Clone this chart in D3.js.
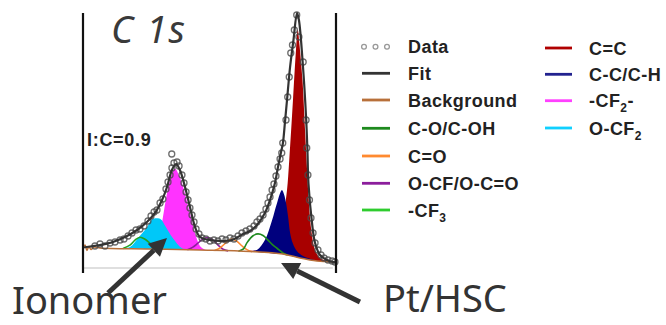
<!DOCTYPE html>
<html><head><meta charset="utf-8">
<script src="https://cdn.jsdelivr.net/npm/d3@7"></script>
<style>body{margin:0;background:#fff}svg{display:block}</style>
</head><body>
<svg id="c" width="666" height="325"></svg>
<script>
// ---------- DATA (binding energy in eV, intensity in a.u.) ----------
const bgBE  = [296.94, 296.82, 296.71, 296.59, 296.47, 296.29, 295.94, 293.0, 290.06, 287.12, 285.18, 284.18, 283.18, 282.24, 282.0];
const bgInt = [20.5, 23, 17.5, 21.5, 18.5, 21, 20, 19, 18, 16.5, 14, 10, 7, 6, 6];

const fitBE  = [296.94, 295.94, 295.18, 294.35, 293.76, 293.18, 292.71, 292.29, 292.0, 291.71, 291.47, 291.24, 290.94, 290.65, 290.35, 290.06, 289.47, 288.88, 288.18, 287.53, 287.12, 286.71, 286.24, 285.94, 285.65, 285.47, 285.29, 285.18, 285.06, 284.94, 284.76, 284.56, 284.35, 284.24, 284.0, 283.82, 283.74, 283.68, 283.47, 283.29, 283.0, 282.59, 282.24, 282.0];
const fitInt = [20.5, 23, 26, 32, 38, 46, 55, 68, 81, 98, 104, 98, 81, 61, 41, 31, 28, 27, 28, 34, 37, 43, 55, 68, 85, 101, 116, 125, 146, 168, 201, 228, 255, 248, 201, 151, 118, 85, 45, 25, 13, 8, 6, 6];

const dataBE  = [296.24, 295.94, 295.65, 295.35, 295.06, 294.76, 294.53, 294.29, 294.06, 293.82, 293.59, 293.35, 293.12, 292.94, 292.76, 292.59, 292.41, 292.24, 292.06, 291.94, 291.82, 291.72, 291.71, 291.59, 291.41, 291.29, 291.12, 291.0, 290.88, 290.76, 290.65, 290.53, 290.41, 290.29, 290.12, 289.94, 289.71, 289.47, 289.24, 289.0, 288.76, 288.53, 288.29, 288.06, 287.82, 287.59, 287.35, 287.12, 286.88, 286.71, 286.53, 286.35, 286.18, 286.06, 285.94, 285.82, 285.71, 285.59, 285.47, 285.35, 285.25, 285.19, 285.0, 284.9, 284.81, 284.72, 284.62, 284.51, 284.37, 284.24, 283.99, 283.82, 283.78, 283.71, 283.62, 283.53, 283.41, 283.29, 283.12, 282.94, 282.76, 282.53, 282.29, 282.12];
const dataInt = [22, 24, 22, 25, 26, 28, 29, 32, 35, 38, 39, 42, 47, 52, 56, 58, 65, 69, 79, 86, 93, 114, 100, 105, 106, 102, 93, 85, 76, 68, 60, 53, 46, 39, 34, 30, 29, 27, 28, 27, 29, 28, 30, 29, 32, 35, 37, 39, 42, 46, 49, 53, 59, 65, 71, 78, 84, 92, 101, 109, 115, 125, 148, 171, 191, 215, 223, 238, 253, 231, 206, 148, 120, 93, 68, 50, 35, 25, 18, 13, 10, 8, 7, 6];

// component heights above background
const cf2BE  = [293.4, 293.0, 292.65, 292.41, 292.24, 292.0, 291.71, 291.53, 291.24, 290.94, 290.65, 290.35, 290.06, 289.76, 289.4];
const cf2Int = [0, 1.7, 6.8, 17, 32, 56, 76, 81, 72, 56, 36.5, 16.6, 4, 0.5, 0];
const ocf2BE  = [294.65, 294.18, 293.71, 293.18, 292.88, 292.59, 292.35, 292.12, 291.65, 291.12, 290.7];
const ocf2Int = [0, 1.5, 10.6, 21.7, 29.7, 30.8, 29.8, 23.9, 11.1, 1.3, 0];
const cf3BE  = [294.59, 294.18, 293.88, 293.59, 293.29, 293.0, 292.71, 292.41];
const cf3Int = [0, 3.5, 8.6, 11.6, 9.7, 5.7, 1.7, 0];
const ocfBE  = [290.8, 290.5, 290.2, 289.9, 289.59, 289.3, 289.0, 288.7, 288.4];
const ocfInt = [0, 2.5, 6.5, 11, 12.7, 10.5, 5.5, 1.5, 0];
const coBE  = [289.2, 288.9, 288.6, 288.35, 288.18, 287.9, 287.6, 287.3, 287.0];
const coInt = [0, 2.5, 7, 11, 12, 10, 5.5, 1.8, 0];
const cohBE  = [287.8, 287.5, 287.29, 286.94, 286.65, 286.35, 286.06, 285.8, 285.53, 285.18, 284.9];
const cohInt = [0, 2.5, 8.8, 16, 18.2, 17, 12.7, 8.5, 5.3, 1, 0];
const ccBE  = [287.2, 286.71, 286.24, 285.82, 285.53, 285.24, 285.12, 285.0, 284.88, 284.76, 284.6, 284.35, 284.0, 283.5, 283.0];
const ccInt = [0, 2.1, 12.6, 33, 50.4, 63.8, 60, 52, 39, 23, 13, 6, 2.5, 0.8, 0];
const c2BE  = [287.5, 287.0, 286.5, 286.0, 285.65, 285.35, 285.12, 284.94, 284.81, 284.59, 284.42, 284.31, 284.2, 284.03, 283.88, 283.76, 283.65, 283.5, 283.29, 283.0, 282.59, 282.2];
const c2Int = [0, 0.8, 2.5, 6, 12, 24, 42, 65, 95, 156, 205, 228, 212, 178, 129, 89, 55, 28, 10.7, 3.2, 0.8, 0];

const legendCol1 = ["Data", "Fit", "Background", "C-O/C-OH", "C=O", "O-CF/O-C=O", "-CF{3}"];
const legendCol2 = ["C=C", "C-C/C-H", "-CF{2}-", "O-CF{2}"];
const titleText = "C 1s";
const ratioText = "I:C=0.9";
const annotations = [
  {label: "Ionomer", tip: [292.0, 30], tail: [295.47, -25]},
  {label: "Pt/HSC",  tip: [285.29, 5], tail: [280.65, -34]}
];

// ---------- STYLES ----------
const col = {
  "Data": "#8a8a8a", "Fit": "#333333", "Background": "#b8703a",
  "C-O/C-OH": "#1e8a1e", "C=O": "#ff8a30", "O-CF/O-C=O": "#8c1e9c", "-CF{3}": "#2ecc2e",
  "C=C": "#b00000", "C-C/C-H": "#22228f", "-CF{2}-": "#ff40ff", "O-CF{2}": "#10d0ff"
};
const fillCol = {cf2: "#ff33ff", ocf2: "#00c8f8", c2: "#a80000", cc: "#00007e"};

const svg = d3.select("#c");
const x = d3.scaleLinear().domain([297, 282]).range([82, 337]);
const y = d3.scaleLinear().domain([0, 256]).range([268, 12]);
const bgAt = d3.scaleLinear().domain(bgBE).range(bgInt).clamp(true);
const curve = d3.curveCatmullRom.alpha(0.5);

const comp = (be, h) => be.map((e, i) => ({e, lo: bgAt(e), hi: bgAt(e) + h[i]}));
const area = d3.area().x(d => x(d.e)).y0(d => y(d.lo)).y1(d => y(d.hi)).curve(curve);
const cline = d3.line().x(d => x(d.e)).y(d => y(d.hi)).curve(curve);
const pline = d3.line().x(d => x(d[0])).y(d => y(d[1])).curve(curve);

// zero line
svg.append("line").attr("x1", x(296.9)).attr("x2", x(282.25)).attr("y1", y(0)).attr("y2", y(0))
  .attr("stroke", "#d4d4d4").attr("stroke-width", 1.6);

// filled components
[[cf2BE, cf2Int, fillCol.cf2], [ocf2BE, ocf2Int, fillCol.ocf2], [c2BE, c2Int, fillCol.c2], [ccBE, ccInt, fillCol.cc]]
  .forEach(([be, h, c]) => svg.append("path").attr("d", area(comp(be, h))).attr("fill", c));

// line components
[[cf3BE, cf3Int, "#23a323"], [ocfBE, ocfInt, col["O-CF/O-C=O"]], [coBE, coInt, col["C=O"]], [cohBE, cohInt, col["C-O/C-OH"]]]
  .forEach(([be, h, c]) => svg.append("path").attr("d", cline(comp(be, h))).attr("fill", "none")
    .attr("stroke", c).attr("stroke-width", 1.6));

// background
svg.append("path").attr("d", pline(bgBE.map((e, i) => [e, bgInt[i]])))
  .attr("fill", "none").attr("stroke", col["Background"]).attr("stroke-width", 1.5);

// data
svg.append("g").selectAll("circle").data(dataBE.map((e, i) => [e, dataInt[i]])).join("circle")
  .attr("cx", d => x(d[0])).attr("cy", d => y(d[1])).attr("r", 3)
  .attr("fill", "none").attr("stroke", "#4a4a4a").attr("stroke-opacity", 0.8).attr("stroke-width", 1.3);

// fit
svg.append("path").attr("d", pline(fitBE.map((e, i) => [e, fitInt[i]])))
  .attr("fill", "none").attr("stroke", col["Fit"]).attr("stroke-width", 2.2);

// frame
[x(297) + 1, x(282) - 1].forEach(px => svg.append("line").attr("x1", px).attr("x2", px)
  .attr("y1", 13).attr("y2", 273).attr("stroke", "#111").attr("stroke-width", 2.2));

// title & ratio
svg.append("text").attr("x", 111).attr("y", 43).text(titleText)
  .attr("font-family", "'Noto Sans', sans-serif").attr("font-style", "italic")
  .attr("font-size", 38).attr("letter-spacing", 1.5).attr("fill", "#3a3a3a");
svg.append("text").attr("x", 87).attr("y", 146).text(ratioText)
  .attr("font-family", "'Liberation Sans', Arial, sans-serif").attr("font-weight", "bold")
  .attr("font-size", 18).attr("letter-spacing", 0.7).attr("fill", "#222");

// annotations
annotations.forEach(a => {
  const tx = x(a.tip[0]), ty = y(a.tip[1]), sx = x(a.tail[0]), sy = y(a.tail[1]);
  const ang = Math.atan2(ty - sy, tx - sx), L = 18, W = 9;
  const bx = tx - L * Math.cos(ang), by = ty - L * Math.sin(ang);
  svg.append("line").attr("x1", sx).attr("y1", sy).attr("x2", bx).attr("y2", by)
    .attr("stroke", "#333").attr("stroke-width", 5);
  const px = -Math.sin(ang), py = Math.cos(ang);
  svg.append("polygon").attr("points", [[tx, ty], [bx + W * px, by + W * py], [bx - W * px, by - W * py]].map(p => p.join(",")).join(" "))
    .attr("fill", "#333");
});
svg.append("text").attr("x", 12).attr("y", 314).text(annotations[0].label)
  .attr("font-family", "'Noto Sans', sans-serif").attr("font-size", 38).attr("fill", "#333");
svg.append("text").attr("x", 383).attr("y", 312).text(annotations[1].label)
  .attr("font-family", "'Noto Sans', sans-serif").attr("font-size", 38).attr("fill", "#333");

// legend
function addLabel(g, str, tx, ty) {
  const t = g.append("text").attr("x", tx).attr("y", ty)
    .attr("font-family", "'Liberation Sans', Arial, sans-serif").attr("font-weight", "bold")
    .attr("font-size", 18).attr("letter-spacing", 0.45).attr("fill", "#222");
  const parts = str.split(/(\{[^}]*\})/).filter(s => s.length);
  let sub = false;
  parts.forEach(p => {
    if (p.startsWith("{")) {
      t.append("tspan").attr("dy", 5).attr("font-size", 12).text(p.slice(1, -1)); sub = true;
    } else {
      const ts = t.append("tspan").text(p);
      if (sub) { ts.attr("dy", -5); sub = false; }
    }
  });
}
const lg = svg.append("g");
const rowY1 = [46.7, 73.3, 100, 128.3, 156, 183.3, 210];
legendCol1.forEach((lab, i) => {
  const cy = rowY1[i];
  if (lab === "Data") {
    [364, 375.5, 387].forEach(cx => lg.append("circle").attr("cx", cx).attr("cy", cy).attr("r", 2.4)
      .attr("fill", "none").attr("stroke", "#999").attr("stroke-width", 1.3));
  } else {
    lg.append("line").attr("x1", 362).attr("x2", 390).attr("y1", cy).attr("y2", cy)
      .attr("stroke", col[lab]).attr("stroke-width", 2.8);
  }
  addLabel(lg, lab, 408, cy + 6.5);
});
const rowY2 = [48, 74.3, 100.7, 128];
legendCol2.forEach((lab, i) => {
  const cy = rowY2[i];
  lg.append("line").attr("x1", 545).attr("x2", 572).attr("y1", cy).attr("y2", cy)
    .attr("stroke", col[lab]).attr("stroke-width", 2.8);
  addLabel(lg, lab, 589, cy + 6.5);
});
</script>
</body></html>
